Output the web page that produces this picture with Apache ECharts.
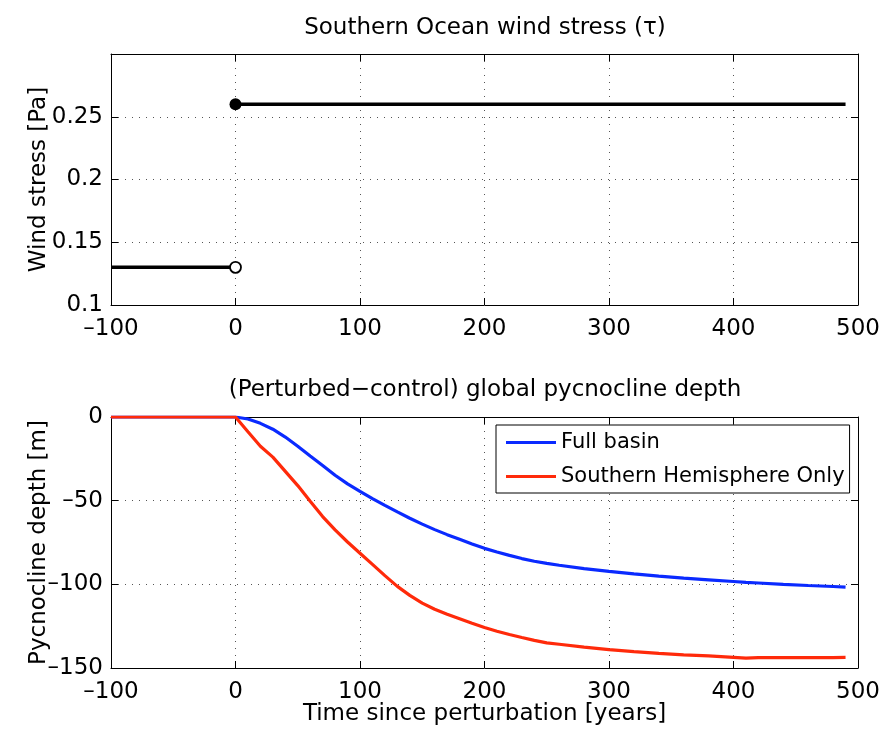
<!DOCTYPE html>
<html><head><meta charset="utf-8">
<script src="https://cdn.jsdelivr.net/npm/echarts@6/dist/echarts.min.js"></script>
<style>html,body{margin:0;padding:0;background:#fff}#c{width:892px;height:731px}</style>
</head><body><div id="c"></div>
<script>
// ---- data ----
const windBeforeX = [-100, 0];
const windBefore = 0.13;
const windAfterX = [0, 490];
const windAfter = 0.26;
const windYTicks = [0.1, 0.15, 0.2, 0.25];
const xTicks = [-100, 0, 100, 200, 300, 400, 500];
const depthYTicks = [-150, -100, -50, 0];
const years = [-100, 0, 10, 20, 30, 40, 50, 60, 70, 80, 90, 100, 110, 120, 130, 140, 150, 160, 170, 180, 190, 200, 210, 220, 230, 240, 250, 260, 280, 300, 320, 340, 360, 380, 400, 410, 420, 440, 460, 480, 490];
const fullBasin = [0, 0, -1.2, -3.8, -7.3, -12, -17.5, -23.3, -29, -34.8, -40, -44.5, -48.8, -52.8, -56.7, -60.5, -64, -67.3, -70.3, -73.1, -75.9, -78.5, -80.7, -82.7, -84.6, -86.2, -87.5, -88.6, -90.6, -92.3, -93.8, -95.1, -96.3, -97.3, -98.3, -98.8, -99.2, -100, -100.7, -101.3, -101.7];
const southernOnly = [0, 0, -8.8, -17.5, -24, -32.5, -41, -50.4, -59.5, -67.5, -74.7, -81.4, -88.1, -94.8, -101.2, -106.6, -111.2, -114.9, -117.9, -120.6, -123.3, -125.8, -128, -130, -131.8, -133.5, -135, -135.8, -137.5, -139, -140.2, -141.3, -142.1, -142.8, -143.6, -144.1, -143.8, -143.8, -143.8, -143.8, -143.7];
const titles = ['Southern Ocean wind stress (\u03c4)', '(Perturbed\u2212control) global pycnocline depth'];
const seriesNames = ['Full basin', 'Southern Hemisphere Only'];

// ---- chart ----
const FONT = 'DejaVu Sans';
const fmt = (ticks) => v => {
  const r = +(+v).toFixed(6);
  if (r > ticks[ticks.length - 1] + 1e-9) return '';
  return String(r).replace('-', '\u2013');
};
const tick = {show: true, inside: true, length: 7, lineStyle: {color: '#000', width: 1}};
const axLine = {show: true, onZero: false, lineStyle: {color: '#000', width: 1}};
const split = {show: true, lineStyle: {type: [1, 6], color: '#555', width: 1}};
const lab = {color: '#000', fontFamily: FONT, fontSize: 23};
const nameStyle = {color: '#000', fontFamily: FONT, fontSize: 23};

function xPair(gi, withName) {
  const min = xTicks[0], max = xTicks[xTicks.length - 1], interval = xTicks[1] - xTicks[0];
  return [
    {type: 'value', gridIndex: gi, position: 'bottom', min, max, interval,
     axisLine: axLine, axisTick: tick, splitLine: split,
     axisLabel: Object.assign({margin: 13, formatter: fmt(xTicks)}, lab),
     name: withName ? 'Time since perturbation [years]' : '', nameLocation: 'middle', nameGap: 35,
     nameMoveOverlap: false, nameTextStyle: nameStyle},
    {type: 'value', gridIndex: gi, position: 'top', min, max, interval,
     axisLine: axLine, axisTick: tick, splitLine: {show: false}, axisLabel: {show: false}}
  ];
}
function yPair(gi, ticks, name, extra) {
  const min = ticks[0], interval = ticks[1] - ticks[0];
  const max = extra ? +(ticks[ticks.length - 1] + interval).toFixed(6) : ticks[ticks.length - 1];
  return [
    {type: 'value', gridIndex: gi, position: 'left', min, max, interval,
     axisLine: axLine, axisTick: tick, splitLine: split,
     axisLabel: Object.assign({margin: 8, formatter: fmt(ticks)}, lab),
     name, nameLocation: 'middle', nameGap: 60, nameMoveOverlap: false,
     nameTextStyle: nameStyle},
    {type: 'value', gridIndex: gi, position: 'right', min, max, interval,
     axisLine: axLine, axisTick: tick, splitLine: {show: false}, axisLabel: {show: false}}
  ];
}

const chart = echarts.init(document.getElementById('c'), null, {renderer: 'canvas'});
chart.setOption({
  animation: false,
  backgroundColor: '#fff',
  grid: [
    {left: 111, right: 34, top: 54, height: 251},
    {left: 111, right: 34, top: 417, height: 251}
  ],
  xAxis: [...xPair(0, false), ...xPair(1, true)],
  yAxis: [...yPair(0, windYTicks, 'Wind stress [Pa]', true), ...yPair(1, depthYTicks, 'Pycnocline depth [m]', false)],
  legend: {
    data: seriesNames, orient: 'vertical', left: 496, top: 425,
    icon: 'rect', itemWidth: 50, itemHeight: 3, itemGap: 13,
    borderColor: '#000', borderWidth: 1, padding: [7, 5, 6, 10], backgroundColor: '#fff',
    textStyle: {color: '#000', fontFamily: FONT, fontSize: 21}
  },
  graphic: [
    {type: 'text', x: 485, y: 28, style: {text: titles[0], font: '23px "DejaVu Sans"', fill: '#000', textAlign: 'center', textVerticalAlign: 'middle', align: 'center', verticalAlign: 'middle'}},
    {type: 'text', x: 485, y: 390, style: {text: titles[1], font: '23px "DejaVu Sans"', fill: '#000', textAlign: 'center', textVerticalAlign: 'middle', align: 'center', verticalAlign: 'middle'}}
  ],
  series: [
    {type: 'line', xAxisIndex: 0, yAxisIndex: 0, symbol: 'none', silent: true,
     data: windBeforeX.map(x => [x, windBefore]), lineStyle: {color: '#000', width: 3.5}},
    {type: 'line', xAxisIndex: 0, yAxisIndex: 0, symbol: 'none', silent: true,
     data: windAfterX.map(x => [x, windAfter]), lineStyle: {color: '#000', width: 3.5}},
    {type: 'scatter', xAxisIndex: 0, yAxisIndex: 0, symbol: 'circle', symbolSize: 11, z: 5, silent: true,
     data: [[windBeforeX[windBeforeX.length - 1], windBefore]],
     itemStyle: {color: '#fff', borderColor: '#000', borderWidth: 1.8, opacity: 1}},
    {type: 'scatter', xAxisIndex: 0, yAxisIndex: 0, symbol: 'circle', symbolSize: 12, z: 5, silent: true,
     data: [[windAfterX[0], windAfter]], itemStyle: {color: '#000', opacity: 1}},
    {type: 'line', name: seriesNames[0], xAxisIndex: 2, yAxisIndex: 2, symbol: 'none', z: 4,
     data: years.map((x, i) => [x, fullBasin[i]]), color: '#0a2aff', lineStyle: {color: '#0a2aff', width: 3.2}},
    {type: 'line', name: seriesNames[1], xAxisIndex: 2, yAxisIndex: 2, symbol: 'none', z: 4,
     data: years.map((x, i) => [x, southernOnly[i]]), color: '#ff2a0a', lineStyle: {color: '#ff2a0a', width: 3.2}}
  ]
});
</script>
</body></html>
